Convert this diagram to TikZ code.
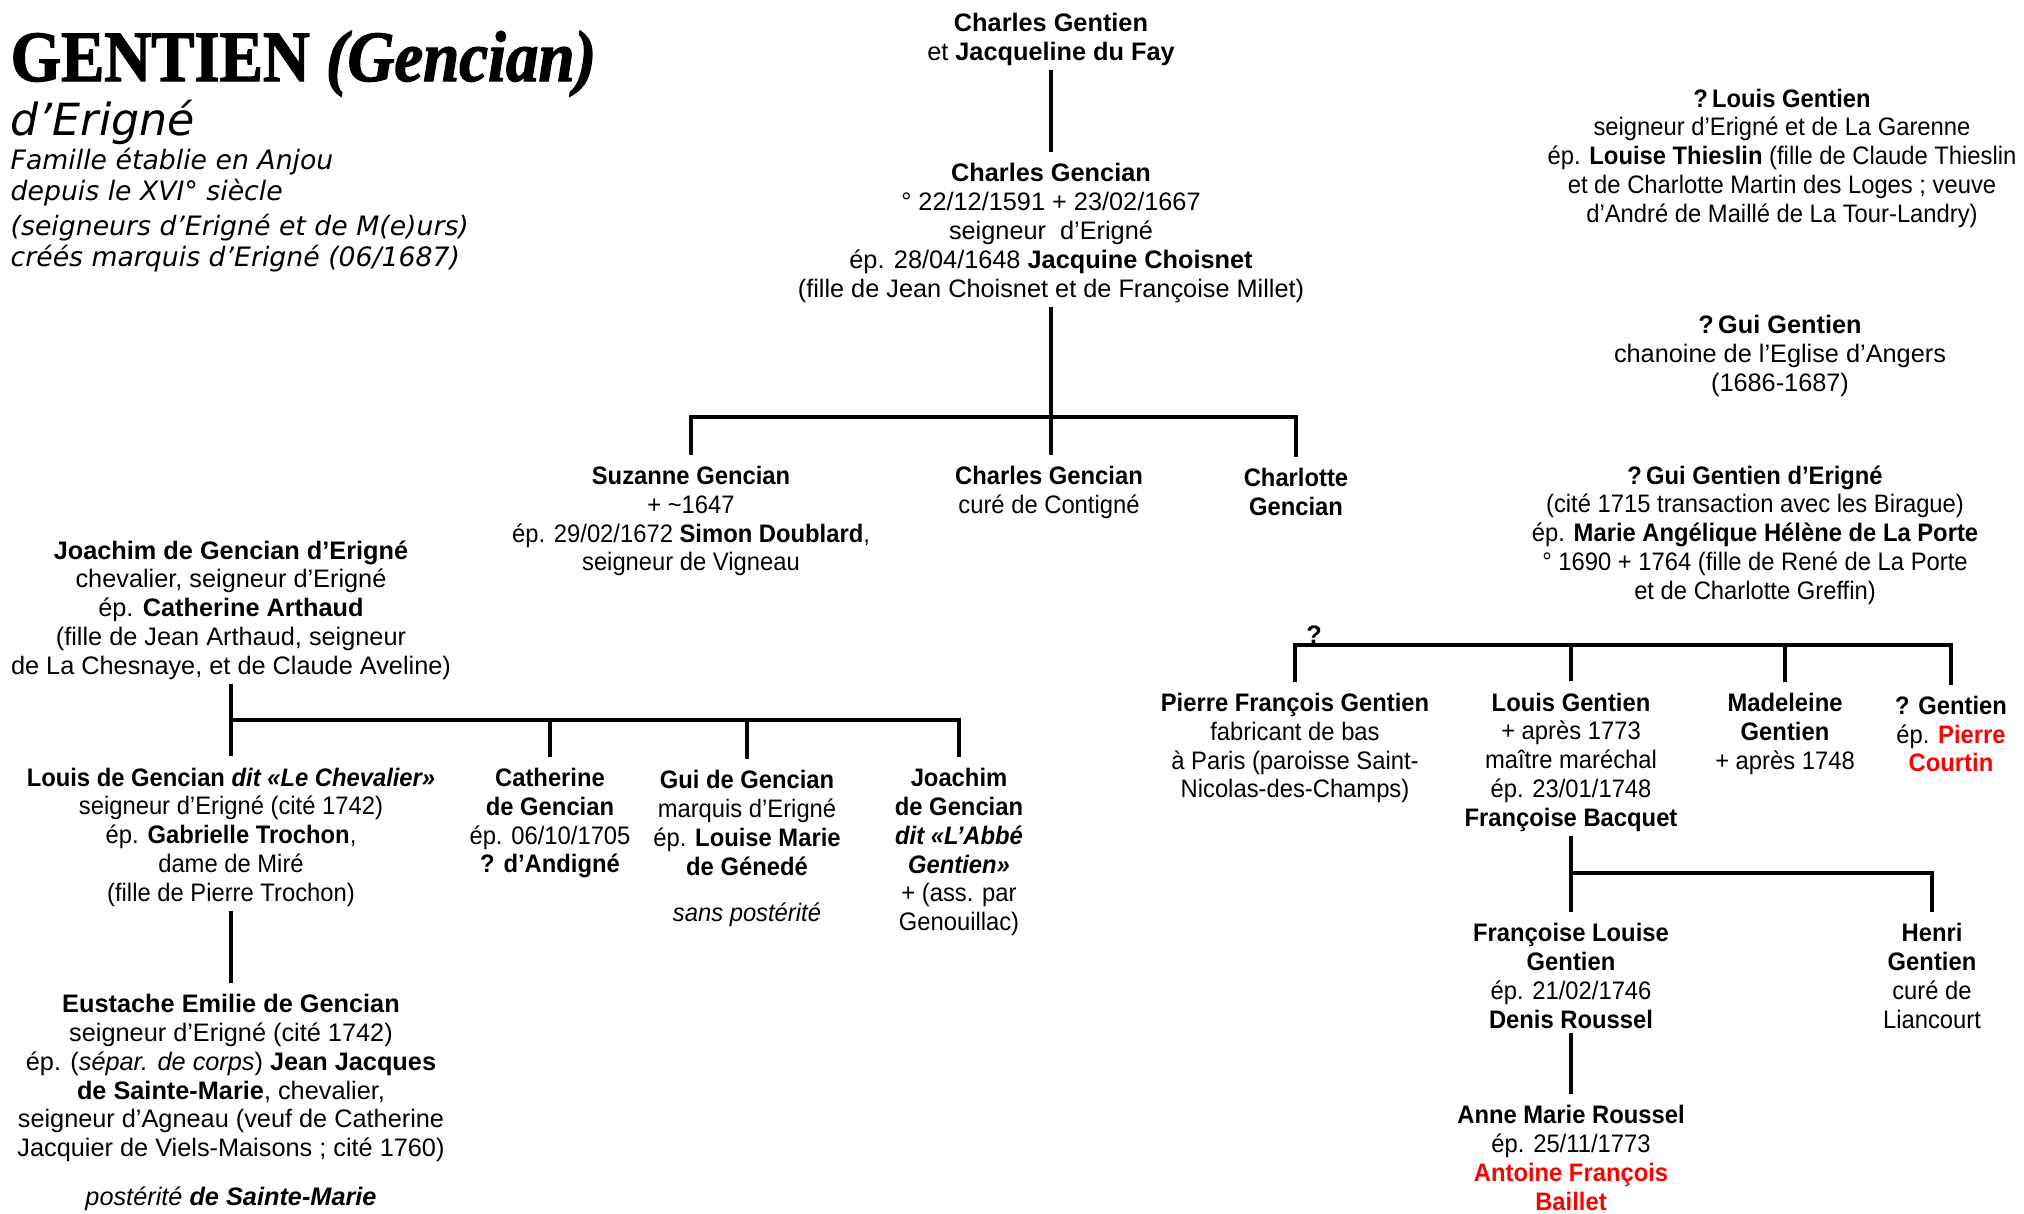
\documentclass[tikz,border=0pt]{standalone}
\usepackage{fontspec}
\setmainfont{Liberation Sans}
\newfontfamily\narrowfamily[FakeStretch=0.94]{Liberation Sans}
\newfontfamily\titlefamily[FakeStretch=0.9,FakeBold=1.8]{Liberation Serif}
\newfontfamily\introfamily{DejaVu Sans}
\definecolor{linkred}{HTML}{FF0000}
\newcommand\personsize{\fontsize{7.2}{8.2}\selectfont}
\tikzset{
  person/.style={align=center,inner sep=0pt,yshift=-0.6pt,font=\personsize},
  narrowperson/.style={person,font=\narrowfamily\personsize},
  kinline/.style={line width=1.1pt,draw=black},
  fromparent/.style={kinline,shorten <=1pt,shorten >=3pt},
  tochildren/.style={kinline,shorten <=3pt,shorten >=3pt},
  tochild/.style={kinline,shorten >=3pt}
}

\begin{document}
\begin{tikzpicture}[x=0.1mm,y=-0.1mm]
\path[use as bounding box] (0,0) rectangle (2024,1214);
\node[anchor=base west,inner sep=0pt,font=\titlefamily\bfseries\fontsize{20.5}{22}\selectfont] (title) at (10,81) {GENTIEN \textit{(Gencian)}};
\node[anchor=base west,inner sep=0pt,font=\introfamily\itshape\fontsize{12.6}{14}\selectfont] (place) at (10,135) {d’Erigné};
\node[anchor=west,align=left,inner sep=0pt,font=\introfamily\itshape\fontsize{7.6}{8.8}\selectfont] (intro) at (10,210) {Famille établie en Anjou\\depuis le XVI° siècle\\[1.2pt](seigneurs d’Erigné et de M(e)urs)\\créés marquis d’Erigné (06/1687)};

\node[person] (cgt) at (1051,37) {\textbf{Charles Gentien}\\et \textbf{Jacqueline du Fay}};
\node[person] (cgc) at (1051,231) {\textbf{Charles Gencian}\\° 22/12/1591 + 23/02/1667\\seigneur\ \ d’Erigné\\ép. 28/04/1648 \textbf{Jacquine Choisnet}\\(fille de Jean Choisnet et de Françoise Millet)};
\node[narrowperson] (lgt) at (1782,156) {\textbf{?\,Louis Gentien}\\seigneur d’Erigné et de La Garenne\\ép. \textbf{Louise Thieslin} (fille de Claude Thieslin\\et de Charlotte Martin des Loges ; veuve\\d’André de Maillé de La Tour-Landry)};
\node[person] (ggt) at (1780,354) {\textbf{?\,Gui Gentien}\\chanoine de l’Eglise d’Angers\\(1686-1687)};

\node[narrowperson] (suz) at (691,519) {\textbf{Suzanne Gencian}\\+ \textasciitilde1647\\ép. 29/02/1672 \textbf{Simon Doublard},\\seigneur de Vigneau};
\node[narrowperson] (cur) at (1049,490) {\textbf{Charles Gencian}\\curé de Contigné};
\node[narrowperson] (chl) at (1296,490) {\textbf{Charlotte}\\\textbf{Gencian}};
\node[narrowperson] (gde) at (1755,533) {\textbf{?\,Gui Gentien d’Erigné}\\(cité 1715 transaction avec les Birague)\\ép. \textbf{Marie Angélique Hélène de La Porte}\\° 1690 + 1764 (fille de René de La Porte\\et de Charlotte Greffin)};

\node[person] (joa) at (231,608) {\textbf{Joachim de Gencian d’Erigné}\\chevalier, seigneur d’Erigné\\ép. \textbf{Catherine Arthaud}\\(fille de Jean Arthaud, seigneur\\de La Chesnaye, et de Claude Aveline)};
\node[narrowperson] (ldg) at (231,835) {\textbf{Louis de Gencian \textit{dit «Le Chevalier»}}\\seigneur d’Erigné (cité 1742)\\ép. \textbf{Gabrielle Trochon},\\dame de Miré\\(fille de Pierre Trochon)};
\node[narrowperson] (cat) at (550,821) {\textbf{Catherine}\\\textbf{de Gencian}\\ép. 06/10/1705\\\textbf{? d’Andigné}};
\node[narrowperson] (gui) at (747,821) {\textbf{Gui de Gencian}\\marquis d’Erigné\\ép. \textbf{Louise Marie}\\\textbf{de Génedé}};
\node[narrowperson] (nopost) at (747,913) {\itshape sans postérité};
\node[narrowperson] (jab) at (959,850) {\textbf{Joachim}\\\textbf{de Gencian}\\\textbf{\textit{dit «L’Abbé}}\\\textbf{\textit{Gentien»}}\\+ (ass. par\\Genouillac)};
\node[person] (eus) at (231,1076) {\textbf{Eustache Emilie de Gencian}\\seigneur d’Erigné (cité 1742)\\ép. (\textit{sépar. de corps}) \textbf{Jean Jacques}\\\textbf{de Sainte-Marie}, chevalier,\\seigneur d’Agneau (veuf de Catherine\\Jacquier de Viels-Maisons ; cité 1760)};
\node[person] (desc) at (231,1197) {\itshape postérité \bfseries de Sainte-Marie};

\node[person] (unk) at (1314,633) {\bfseries ?};
\node[narrowperson] (pfg) at (1295,746) {\textbf{Pierre François Gentien}\\fabricant de bas\\à Paris (paroisse Saint-\\Nicolas-des-Champs)};
\node[narrowperson] (lg) at (1571,760) {\textbf{Louis Gentien}\\+ après 1773\\maître maréchal\\ép. 23/01/1748\\\textbf{Françoise Bacquet}};
\node[narrowperson] (mad) at (1785,732) {\textbf{Madeleine}\\\textbf{Gentien}\\+ après 1748};
\node[narrowperson] (qg) at (1951,732) {\textbf{? Gentien}\\ép. \textbf{\textcolor{linkred}{Pierre}}\\\textbf{\textcolor{linkred}{Courtin}}};
\node[narrowperson] (fl) at (1571,974) {\textbf{Françoise Louise}\\\textbf{Gentien}\\ép. 21/02/1746\\\textbf{Denis Roussel}};
\node[narrowperson] (hen) at (1932,974) {\textbf{Henri}\\\textbf{Gentien}\\curé de\\Liancourt};
\node[narrowperson] (amr) at (1571,1156) {\textbf{Anne Marie Roussel}\\ép. 25/11/1773\\\textcolor{linkred}{\textbf{Antoine François}}\\\textcolor{linkred}{\textbf{Baillet}}};

\coordinate (bar1) at (1051,417);
\coordinate (bar2) at (231,720);
\coordinate (bar3) at (1295,645);
\coordinate (bar4) at (1571,873);

\draw[fromparent] (cgt.south) -- (cgc.north);
\draw[fromparent] (cgc.south) -- (cgc.south |- cur.north);
\draw[tochildren] (suz.north) |- (bar1) -| (chl.north);
\draw[fromparent] (joa.south) -- (ldg.north);
\draw[tochild] (ldg.north |- bar2) -| (jab.north);
\draw[tochild] (bar2 -| cat.north) -- (cat.north);
\draw[tochild] (bar2 -| gui.north) -- (gui.north);
\draw[fromparent] (ldg.south) -- (eus.north);
\draw[tochildren] (pfg.north) |- (bar3) -| (qg.north);
\draw[tochild] (bar3 -| lg.north) -- (lg.north);
\draw[tochild] (bar3 -| mad.north) -- (mad.north);
\draw[fromparent] (lg.south) -- (fl.north);
\draw[tochild] (bar4) -| (hen.north);
\draw[fromparent] (fl.south) -- (amr.north);
\end{tikzpicture}
\end{document}
